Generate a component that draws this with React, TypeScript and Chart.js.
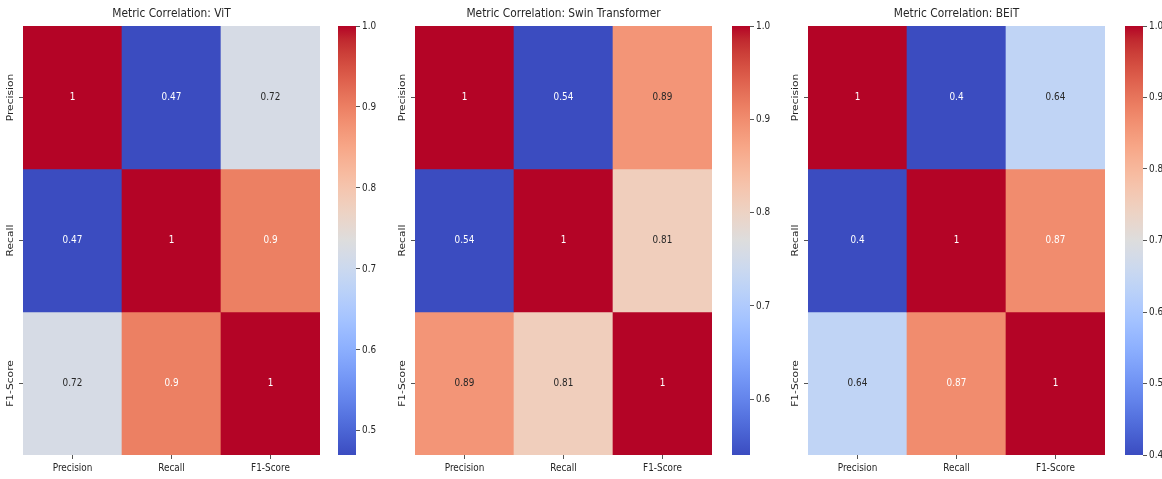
import React, { useEffect, useRef } from 'react';
import { Chart, registerables } from 'chart.js';

Chart.register(...registerables);

// ---------------- data ----------------
const METRICS = ['Precision', 'Recall', 'F1-Score'];
const MODEL_TITLES = ['Metric Correlation: ViT', 'Metric Correlation: Swin Transformer', 'Metric Correlation: BEiT'];

const VIT_VALUES = [
  [1, 0.47, 0.72],
  [0.47, 1, 0.9],
  [0.72, 0.9, 1],
];
const SWIN_VALUES = [
  [1, 0.54, 0.89],
  [0.54, 1, 0.81],
  [0.89, 0.81, 1],
];
const BEIT_VALUES = [
  [1, 0.4, 0.64],
  [0.4, 1, 0.87],
  [0.64, 0.87, 1],
];

const VIT_CB_TICKS = [0.5, 0.6, 0.7, 0.8, 0.9, 1.0];
const SWIN_CB_TICKS = [0.6, 0.7, 0.8, 0.9, 1.0];
const BEIT_CB_TICKS = [0.4, 0.5, 0.6, 0.7, 0.8, 0.9, 1.0];

// ---------------- layout / style ----------------
const W = 1162;
const H = 479;
const TOP = 26;
const BOTTOM = 455;
const HEAT_W = 297;
const Y_AXIS_W = 23;
const CB_W = 18;
const CB_AXIS_W = 40;
const PANEL_LEFT = [23, 415, 808];
const CB_LEFT = [338, 732, 1125];
const FONT = '"DejaVu Sans", sans-serif';
const TEXT = '#262626';
const SQUEEZE = 0.83; // horizontal squeeze of the reference figure
const TICK_SIZE = 10.7;
const TITLE_SIZE = 12.8;

// matplotlib / Moreland coolwarm colormap
const COOLWARM: number[][] = [
  [59, 76, 192], [68, 90, 204], [77, 104, 215], [87, 117, 225], [98, 130, 234],
  [108, 142, 241], [119, 154, 247], [130, 165, 251], [141, 176, 254], [152, 185, 255],
  [163, 194, 255], [174, 201, 253], [184, 208, 249], [194, 213, 244], [204, 217, 238],
  [213, 219, 230], [221, 221, 221], [229, 216, 209], [236, 211, 197], [241, 204, 185],
  [245, 196, 173], [247, 187, 160], [247, 177, 148], [247, 166, 135], [244, 154, 123],
  [241, 141, 111], [236, 127, 99], [229, 112, 88], [222, 96, 77], [213, 80, 66],
  [203, 62, 56], [192, 40, 47], [180, 4, 38],
];

function coolwarm(t: number): number[] {
  const tt = Math.max(0, Math.min(1, t));
  const n = COOLWARM.length - 1;
  const x = tt * n;
  const i = Math.min(Math.floor(x), n - 1);
  const f = x - i;
  const a = COOLWARM[i];
  const b = COOLWARM[i + 1];
  return [0, 1, 2].map((k) => Math.round(a[k] + (b[k] - a[k]) * f));
}

const rgb = (c: number[]) => `rgb(${c[0]},${c[1]},${c[2]})`;

function textColorFor(c: number[]): string {
  const lin = c.map((v) => {
    const s = v / 255;
    return s <= 0.03928 ? s / 12.92 : Math.pow((s + 0.055) / 1.055, 2.4);
  });
  const lum = 0.2126 * lin[0] + 0.7152 * lin[1] + 0.0722 * lin[2];
  return lum > 0.408 ? TEXT : '#ffffff';
}

function drawText(
  ctx: CanvasRenderingContext2D,
  text: string,
  x: number,
  y: number,
  size: number,
  color: string,
  align: CanvasTextAlign = 'center',
  rotate = false
) {
  ctx.save();
  ctx.translate(x, y);
  ctx.scale(SQUEEZE, 1);
  if (rotate) ctx.rotate(-Math.PI / 2);
  ctx.font = `${size}px ${FONT}`;
  ctx.fillStyle = color;
  ctx.textAlign = align;
  ctx.textBaseline = 'middle';
  ctx.fillText(text, 0, 0);
  ctx.restore();
}

function Panel({ title, values, cbTicks, left, cbLeft }: { title: string; values: number[][]; cbTicks: number[]; left: number; cbLeft: number }) {
  const heatRef = useRef<HTMLCanvasElement | null>(null);
  const cbRef = useRef<HTMLCanvasElement | null>(null);

  useEffect(() => {
    const flat = values.flat();
    const vmin = Math.min(...flat);
    const vmax = Math.max(...flat);
    const colorOf = (v: number) => coolwarm((v - vmin) / (vmax - vmin));

    const datasets = METRICS.map((row, r) => ({
      label: row,
      data: METRICS.map(() => [r, r + 1]),
      backgroundColor: values[r].map((v) => rgb(colorOf(v))),
      borderWidth: 0,
      barPercentage: 1,
      categoryPercentage: 1,
      grouped: false,
    }));

    const annot = {
      id: 'annot',
      afterDraw(chart: any) {
        const ctx = chart.ctx;
        const xs = chart.scales.x;
        const ys = chart.scales.y;
        const area = chart.chartArea;
        values.forEach((row, r) =>
          row.forEach((v, c) => {
            drawText(ctx, String(v), xs.getPixelForValue(c), ys.getPixelForValue(r + 0.5), TICK_SIZE, textColorFor(colorOf(v)));
          })
        );
        METRICS.forEach((lab, r) => {
          drawText(ctx, lab, area.left - 12, ys.getPixelForValue(r + 0.5), TICK_SIZE, TEXT, 'center', true);
          drawText(ctx, lab, xs.getPixelForValue(r), area.bottom + 13, TICK_SIZE, TEXT);
        });
        drawText(ctx, title, (area.left + area.right) / 2, 14, TITLE_SIZE, TEXT);
      },
    };

    const heat = new Chart(heatRef.current as HTMLCanvasElement, {
      type: 'bar',
      data: { labels: METRICS, datasets: datasets as any },
      options: {
        responsive: false,
        animation: false,
        layout: { padding: { top: TOP, bottom: 0, left: 0, right: 0 } },
        plugins: { legend: { display: false }, tooltip: { enabled: false }, title: { display: false } },
        scales: {
          x: {
            type: 'category',
            offset: true,
            grid: { display: true, offset: false, drawOnChartArea: false, drawTicks: true, tickLength: 4, color: '#555' },
            border: { display: false },
            ticks: { display: false },
            afterFit: (s: any) => { s.height = H - BOTTOM; },
          },
          y: {
            type: 'linear',
            min: 0,
            max: 3,
            reverse: true,
            afterBuildTicks: (s: any) => { s.ticks = [0.5, 1.5, 2.5].map((v) => ({ value: v })); },
            ticks: { display: false },
            grid: { display: true, drawOnChartArea: false, drawTicks: true, tickLength: 4, color: '#555' },
            border: { display: false },
            afterFit: (s: any) => { s.width = Y_AXIS_W; },
          },
        },
      } as any,
      plugins: [annot],
    });

    const cbLabels = {
      id: 'cbLabels',
      afterDraw(chart: any) {
        const ys = chart.scales.y;
        const area = chart.chartArea;
        cbTicks.forEach((v) => {
          drawText(chart.ctx, v.toFixed(1), area.right + 6, ys.getPixelForValue(v), TICK_SIZE, TEXT, 'left');
        });
      },
    };

    const cb = new Chart(cbRef.current as HTMLCanvasElement, {
      type: 'bar',
      data: {
        labels: [''],
        datasets: [
          {
            data: [[vmin, vmax]] as any,
            backgroundColor: (context: any) => {
              const area = context.chart.chartArea;
              if (!area) return rgb(COOLWARM[16]);
              const g = context.chart.ctx.createLinearGradient(0, area.bottom, 0, area.top);
              COOLWARM.forEach((c, i) => g.addColorStop(i / (COOLWARM.length - 1), rgb(c)));
              return g;
            },
            borderWidth: 0,
            barPercentage: 1,
            categoryPercentage: 1,
          },
        ],
      },
      options: {
        responsive: false,
        animation: false,
        layout: { padding: { top: TOP, bottom: H - BOTTOM, left: 0, right: 0 } },
        plugins: { legend: { display: false }, tooltip: { enabled: false } },
        scales: {
          x: { display: false },
          y: {
            position: 'right',
            min: vmin,
            max: vmax,
            afterBuildTicks: (s: any) => { s.ticks = cbTicks.map((v) => ({ value: v })); },
            ticks: { display: false },
            grid: { display: true, drawOnChartArea: false, drawTicks: true, tickLength: 4, color: '#555' },
            border: { display: false },
            afterFit: (s: any) => { s.width = CB_AXIS_W; },
          },
        },
      } as any,
      plugins: [cbLabels],
    });

    return () => {
      heat.destroy();
      cb.destroy();
    };
  }, [title, values, cbTicks]);

  return (
    <>
      <canvas
        ref={heatRef}
        width={Y_AXIS_W + HEAT_W}
        height={H}
        style={{ position: 'absolute', left: left - Y_AXIS_W, top: 0, width: Y_AXIS_W + HEAT_W, height: H }}
      />
      <canvas
        ref={cbRef}
        width={CB_W + CB_AXIS_W}
        height={H}
        style={{ position: 'absolute', left: cbLeft, top: 0, width: CB_W + CB_AXIS_W, height: H }}
      />
    </>
  );
}

export default function App() {
  const all = [VIT_VALUES, SWIN_VALUES, BEIT_VALUES];
  const ticks = [VIT_CB_TICKS, SWIN_CB_TICKS, BEIT_CB_TICKS];
  return (
    <div style={{ position: 'absolute', left: 0, top: 0, width: W, height: H, overflow: 'hidden', background: '#fff' }}>
      {MODEL_TITLES.map((t, i) => (
        <Panel key={t} title={t} values={all[i]} cbTicks={ticks[i]} left={PANEL_LEFT[i]} cbLeft={CB_LEFT[i]} />
      ))}
    </div>
  );
}
